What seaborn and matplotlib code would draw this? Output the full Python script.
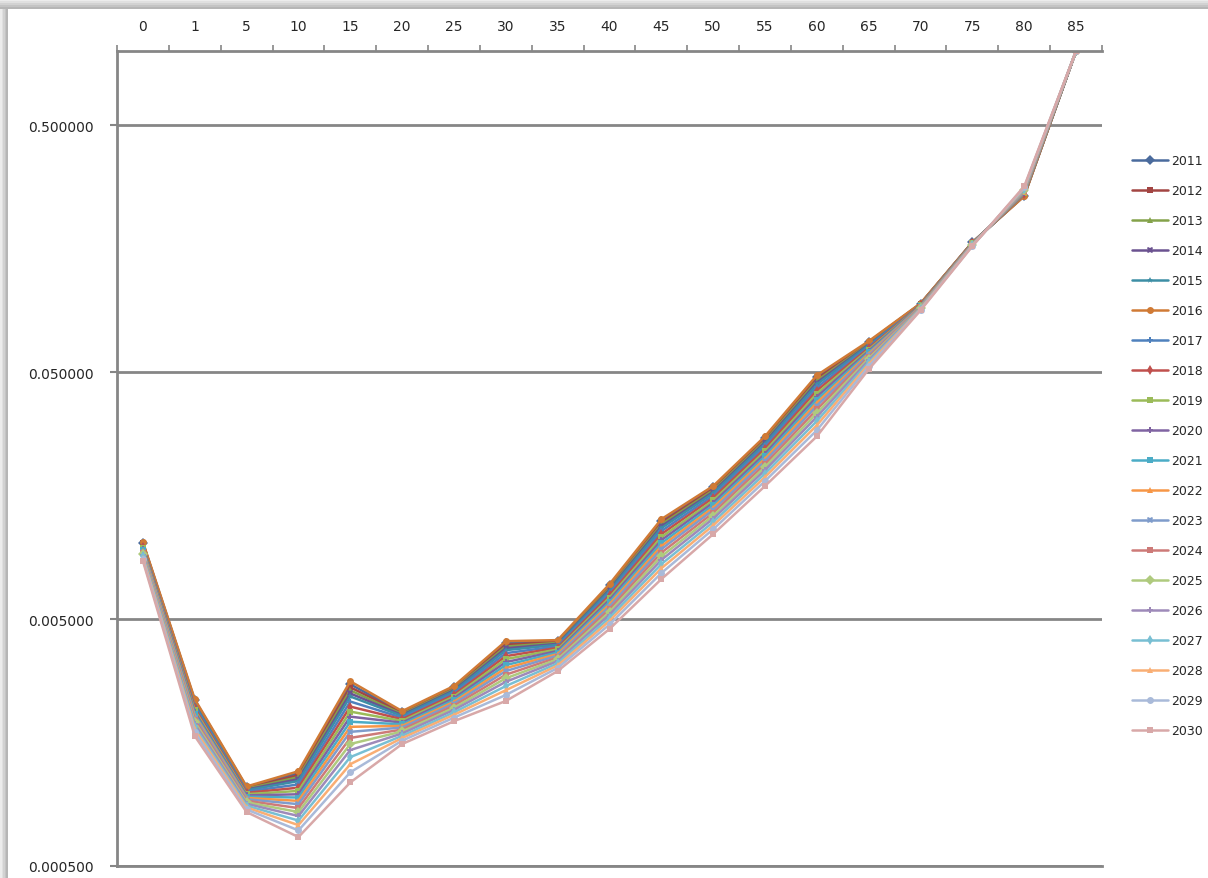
import numpy as np
import pandas as pd
import matplotlib
matplotlib.use('Agg')
import matplotlib.pyplot as plt
from matplotlib.patches import Rectangle
from matplotlib.ticker import NullLocator
import seaborn as sns

# 연령 구간 (x축, 위쪽 라벨)
ages = ['0', '1', '5', '10', '15', '20', '25', '30', '35', '40',
        '45', '50', '55', '60', '65', '70', '75', '80', '85']

# 연도별 값
v2011 = [0.01020, 0.002346, 0.001043, 0.001188, 0.002722, 0.002101, 0.002654, 0.004002, 0.004075, 0.006843, 0.01249, 0.01707, 0.02712, 0.04778, 0.06628, 0.09482, 0.1678, 0.2588, 1.0]
v2012 = [0.01014, 0.002322, 0.001035, 0.001166, 0.002646, 0.002081, 0.002628, 0.003936, 0.004039, 0.006758, 0.01228, 0.01684, 0.02675, 0.04697, 0.06576, 0.09464, 0.1676, 0.2595, 1.0]
v2013 = [0.01009, 0.002298, 0.001028, 0.001145, 0.002572, 0.002062, 0.002602, 0.003871, 0.004005, 0.006674, 0.01208, 0.01662, 0.02638, 0.04617, 0.06524, 0.09446, 0.1675, 0.2603, 1.0]
v2014 = [0.01003, 0.002274, 0.001020, 0.001124, 0.002500, 0.002043, 0.002577, 0.003807, 0.003970, 0.006590, 0.01188, 0.01639, 0.02601, 0.04539, 0.06474, 0.09428, 0.1673, 0.2610, 1.0]
v2015 = [0.00998, 0.002251, 0.001013, 0.001104, 0.002430, 0.002025, 0.002551, 0.003743, 0.003936, 0.006508, 0.01168, 0.01618, 0.02565, 0.04462, 0.06423, 0.09410, 0.1671, 0.2618, 1.0]
v2016 = [0.01025, 0.002370, 0.001050, 0.001210, 0.002800, 0.002120, 0.002680, 0.004070, 0.004110, 0.006930, 0.01270, 0.01730, 0.02750, 0.04860, 0.06680, 0.09500, 0.1680, 0.2580, 1.0]
v2017 = [0.00989, 0.002212, 0.001001, 0.001070, 0.002318, 0.001994, 0.002510, 0.003640, 0.003879, 0.006374, 0.01136, 0.01582, 0.02507, 0.04337, 0.06339, 0.09380, 0.1668, 0.2630, 1.0]
v2018 = [0.00981, 0.002175, 0.000989, 0.001038, 0.002211, 0.001964, 0.002469, 0.003540, 0.003824, 0.006241, 0.01104, 0.01547, 0.02449, 0.04215, 0.06256, 0.09350, 0.1665, 0.2643, 1.0]
v2019 = [0.00972, 0.002138, 0.000977, 0.001007, 0.002110, 0.001934, 0.002429, 0.003443, 0.003769, 0.006112, 0.01074, 0.01512, 0.02393, 0.04097, 0.06175, 0.09320, 0.1662, 0.2655, 1.0]
v2020 = [0.00964, 0.002101, 0.000966, 0.000976, 0.002013, 0.001904, 0.002389, 0.003348, 0.003715, 0.005985, 0.01044, 0.01479, 0.02338, 0.03982, 0.06095, 0.09290, 0.1659, 0.2668, 1.0]
v2021 = [0.00955, 0.002065, 0.000954, 0.000947, 0.001920, 0.001875, 0.002350, 0.003256, 0.003662, 0.005862, 0.01015, 0.01446, 0.02285, 0.03870, 0.06015, 0.09260, 0.1656, 0.2680, 1.0]
v2022 = [0.00947, 0.002030, 0.000943, 0.000918, 0.001831, 0.001847, 0.002312, 0.003167, 0.003610, 0.005740, 0.00987, 0.01414, 0.02232, 0.03761, 0.05937, 0.09230, 0.1653, 0.2693, 1.0]
v2023 = [0.00938, 0.001996, 0.000932, 0.000890, 0.001747, 0.001819, 0.002274, 0.003079, 0.003558, 0.005622, 0.00960, 0.01383, 0.02181, 0.03656, 0.05860, 0.09200, 0.1650, 0.2705, 1.0]
v2024 = [0.00928, 0.001955, 0.000919, 0.000858, 0.001651, 0.001785, 0.002230, 0.002978, 0.003497, 0.005482, 0.00929, 0.01346, 0.02121, 0.03533, 0.05769, 0.09164, 0.1646, 0.2720, 1.0]
v2025 = [0.00919, 0.001915, 0.000906, 0.000827, 0.001560, 0.001753, 0.002187, 0.002880, 0.003437, 0.005346, 0.00898, 0.01310, 0.02063, 0.03414, 0.05679, 0.09128, 0.1643, 0.2735, 1.0]
v2026 = [0.00909, 0.001876, 0.000893, 0.000797, 0.001474, 0.001721, 0.002144, 0.002786, 0.003378, 0.005213, 0.00868, 0.01276, 0.02007, 0.03299, 0.05590, 0.09092, 0.1639, 0.2750, 1.0]
v2027 = [0.00898, 0.001831, 0.000878, 0.000764, 0.001380, 0.001684, 0.002095, 0.002679, 0.003310, 0.005063, 0.00835, 0.01236, 0.01943, 0.03171, 0.05488, 0.09050, 0.1635, 0.2768, 1.0]
v2028 = [0.00887, 0.001788, 0.000863, 0.000732, 0.001292, 0.001649, 0.002048, 0.002576, 0.003244, 0.004916, 0.00803, 0.01198, 0.01880, 0.03047, 0.05389, 0.09008, 0.1631, 0.2785, 1.0]
v2029 = [0.00874, 0.001739, 0.000847, 0.000697, 0.001198, 0.001609, 0.001994, 0.002464, 0.003170, 0.004755, 0.00768, 0.01156, 0.01812, 0.02911, 0.05277, 0.08960, 0.1626, 0.2805, 1.0]
v2030 = [0.00859, 0.001680, 0.000827, 0.000655, 0.001090, 0.001560, 0.001930, 0.002330, 0.003080, 0.004560, 0.00726, 0.01105, 0.01730, 0.02750, 0.05140, 0.08900, 0.1620, 0.2830, 1.0]

years = [str(y) for y in range(2011, 2031)]
series = [v2011, v2012, v2013, v2014, v2015, v2016, v2017, v2018, v2019, v2020,
          v2021, v2022, v2023, v2024, v2025, v2026, v2027, v2028, v2029, v2030]

# 엑셀 기본 색 비슷하게
colors = ['#4A6B9D', '#A34542', '#84A24A', '#6B5290', '#3D8EA5', '#D07A35',
          '#4F81BD', '#C0504D', '#9BBB59', '#8064A2', '#4BACC6', '#F79646',
          '#7F9CCB', '#CD7A78', '#AFCA7E', '#9E8AB9', '#78BFD3', '#F9AE74',
          '#A9BAD9', '#D8A8A8']
markers = ['D', 's', '^', 'X', '*', 'o', 'P', 'd', 's', 'P',
           's', '^', 'X', 's', 'D', 'P', 'd', '^', 'o', 's']

yticks = [0.0005, 0.005, 0.05, 0.5]

rows = []
for y, vals in zip(years, series):
    for i, v in enumerate(vals):
        rows.append({'pos': i, 'year': y, 'value': v})
df = pd.DataFrame(rows)

sns.set_style('white')
plt.rcParams['font.family'] = ['DejaVu Sans']

fig = plt.figure(figsize=(12.08, 8.79), dpi=100)

# 위/왼쪽 그림자 (바깥은 밝게, 안쪽은 진하게)
shades = ['#ececec', '#e0e0e0', '#d2d2d2', '#c4c4c4', '#b6b6b6']
for k, g in enumerate(shades):
    fig.add_artist(Rectangle((0, 1 - (k + 1) * 2 / 879), 1, 2 / 879,
                             transform=fig.transFigure, color=g, lw=0, zorder=-5))
    fig.add_artist(Rectangle((k * 1.6 / 1208, 0), 1.6 / 1208, 1 - 10 / 879,
                             transform=fig.transFigure, color=g, lw=0, zorder=-5))

ax = fig.add_axes([117 / 1208, 12 / 879, 985 / 1208, 815 / 879])

sns.lineplot(data=df, x='pos', y='value', hue='year', style='year',
             palette=colors, markers=markers, dashes=False, estimator=None,
             sort=False, lw=1.8, markersize=5, markeredgewidth=0, ax=ax)

ax.set_yscale('log')
ax.set_ylim(0.0005, 1.0)
ax.set_yticks(yticks)
ax.set_yticklabels(['%.6f' % t for t in yticks])
ax.yaxis.set_minor_locator(NullLocator())

ax.set_xlim(-0.5, len(ages) - 0.5)
ax.xaxis.tick_top()
ax.set_xticks(range(len(ages)))
ax.set_xticklabels(ages)
ax.set_xticks(np.arange(-0.5, len(ages), 1), minor=True)
ax.set_xlabel('')
ax.set_ylabel('')

ax.tick_params(axis='x', which='major', length=0, pad=13, labelsize=10)
ax.tick_params(axis='x', which='minor', length=4, width=1.2, color='#868686',
               top=True, bottom=False)
ax.tick_params(axis='y', which='major', length=5, width=1.5, color='#868686',
               pad=12, labelsize=10, left=True)

ax.grid(True, axis='y', which='major', color='#868686', lw=2)
ax.set_axisbelow(True)
for side in ['left', 'top', 'bottom']:
    ax.spines[side].set_color('#868686')
    ax.spines[side].set_linewidth(2)
ax.spines['right'].set_visible(False)

sns.move_legend(ax, 'center left', bbox_to_anchor=(1127 / 1208, 1 - 447 / 879),
                bbox_transform=fig.transFigure, frameon=False, title=None,
                fontsize=9, labelspacing=1.36, handlelength=2.9,
                handletextpad=0.2, borderaxespad=0)

fig.savefig('out.png', dpi=100)
